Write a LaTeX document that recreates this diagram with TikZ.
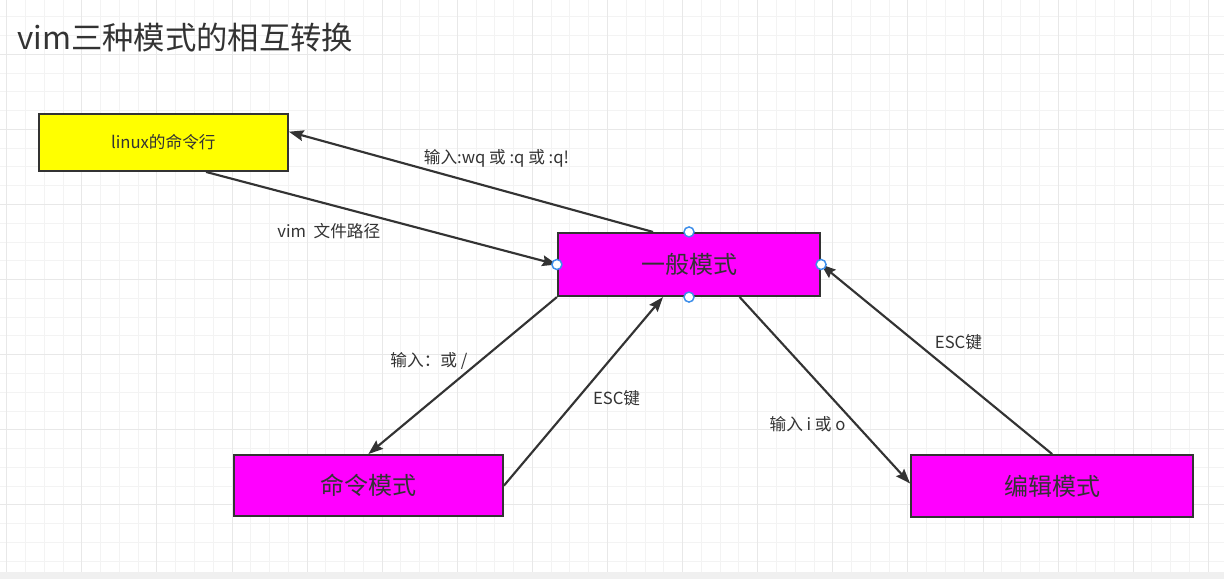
\documentclass[tikz,border=0pt]{standalone}
\usepackage{fontspec}
\setmainfont{Noto Sans CJK SC}
\usepackage{tikz}
\usetikzlibrary{arrows.meta,positioning}
\definecolor{ink}{HTML}{333333}
\definecolor{modefill}{HTML}{FF00FF}
\definecolor{shellfill}{HTML}{FFFF00}
\definecolor{handleblue}{HTML}{3D8EEA}
\definecolor{gridlight}{HTML}{F3F3F3}
\definecolor{griddark}{HTML}{E8E8E8}
\definecolor{bandgray}{HTML}{F0F0F0}

\begin{document}
\begin{tikzpicture}[
    x=0.75pt, y=-0.75pt,
    mode/.style={rectangle, draw=ink, line width=1.6pt, fill=modefill, text=ink, inner sep=0pt, font=\fontsize{18}{20}\selectfont},
    shell/.style={mode, fill=shellfill, font=\fontsize{12.5}{14}\selectfont},
    lbl/.style={text=ink, inner sep=0pt, font=\fontsize{12.5}{14}\selectfont},
    headline/.style={text=ink, inner sep=0pt, anchor=west, font=\fontsize{23.5}{26}\selectfont},
    arr/.style={-{Stealth[length=11pt, width=8pt, inset=1.5pt]}, draw=ink, line width=1.6pt},
    handle/.style={draw=handleblue, fill=white, line width=1.1pt},
    gridminor/.style={draw=gridlight, line width=0.75pt},
    gridmajor/.style={draw=griddark, line width=0.75pt}
]
\useasboundingbox (0,0) rectangle (1224,579);

% canvas grid
\fill[white] (0,0) rectangle (1224,572);
\fill[bandgray] (0,572) rectangle (1224,579);
\foreach \i in {0,...,64}
    \draw[gridminor] ({6.7+\i*18.775},0) -- ({6.7+\i*18.775},572);
\foreach \k in {1,...,30}
    \draw[gridminor] (0,{-2+\k*18.775}) -- (1224,{-2+\k*18.775});
\foreach \i in {0,4,...,64}
    \draw[gridmajor] ({6.7+\i*18.775},0) -- ({6.7+\i*18.775},572);
\foreach \k in {3,7,...,27}
    \draw[gridmajor] (0,{-2+\k*18.775}) -- (1224,{-2+\k*18.775});

\node[headline] (title) at (17,38) {vim三种模式的相互转换};

\node[mode, minimum width=196.5pt, minimum height=47.25pt] (gen) at (689,264.5) {一般模式};
\node[shell, minimum width=186.75pt, minimum height=42.75pt, above left=45pt and 201pt of gen] (linux) {linux的命令行};
\node[mode, minimum width=201.75pt, minimum height=45.75pt, below left=117.75pt and 39.75pt of gen] (cmd) {命令模式};
\node[mode, minimum width=211.5pt, minimum height=46.5pt, below right=117.75pt and 66.75pt of gen] (edit) {编辑模式};

\draw[arr] ([xshift=-27pt]gen.north) -- node[lbl, pos=0.43, yshift=23pt] (quit) {输入:wq 或 :q 或 :q!} ([yshift=8pt]linux.east);
\draw[arr] ([xshift=32pt]linux.south) -- node[lbl, pos=0.35, yshift=-20pt] (open) {vim\ \ 文件路径} (gen.west);
\draw[arr] (gen.south west) -- node[lbl, pos=0.41, xshift=-38pt] (tocmd) {输入：或 /} (cmd.north);
\draw[arr] (cmd.east) -- node[lbl, pos=0.465, xshift=29pt] (esccmd) {ESC键} ([xshift=-19.5pt]gen.south);
\draw[arr] ([xshift=38pt]gen.south) -- node[lbl, pos=0.68, xshift=-36pt] (toedit) {输入 i 或 o} ([yshift=2pt]edit.west);
\draw[arr] (edit.north) -- node[lbl, pos=0.59, xshift=32pt] (escedit) {ESC键} (gen.east);

\foreach \a in {north,south,east,west}
    \draw[handle] (gen.\a) circle (3.75pt);

\end{tikzpicture}
\end{document}
